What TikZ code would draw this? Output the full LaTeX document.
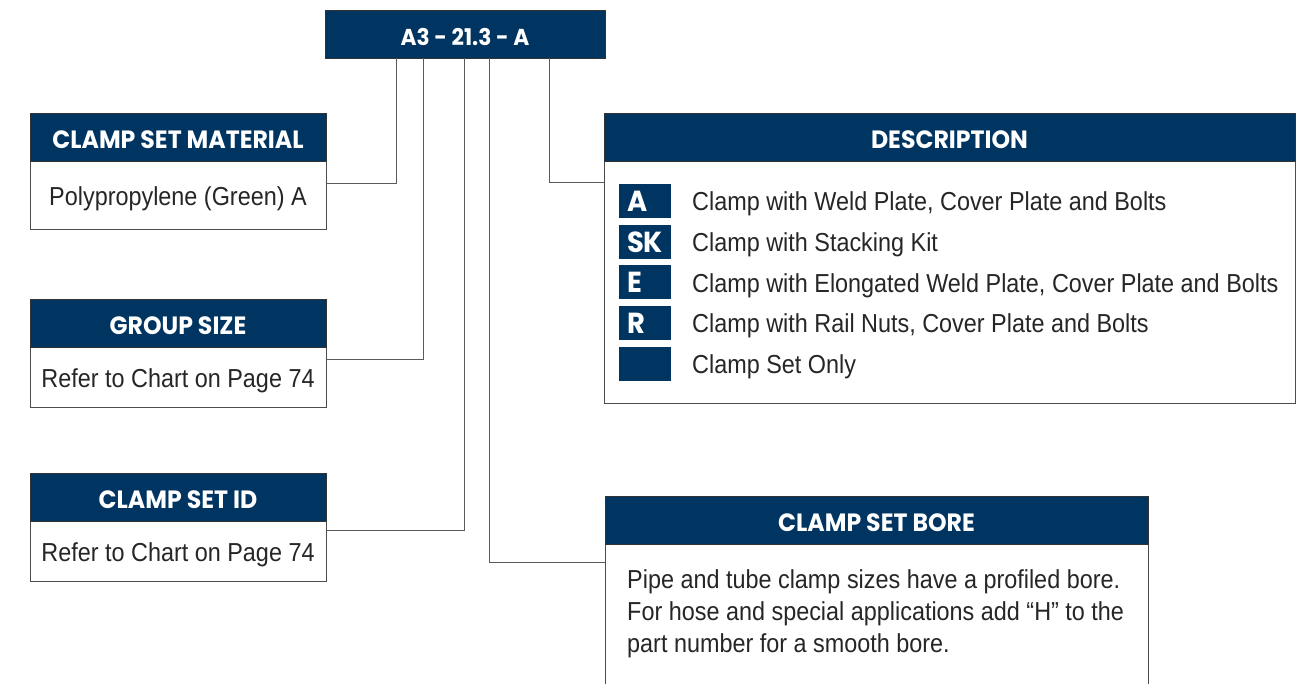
\documentclass[tikz,border=0pt]{standalone}
\usepackage{fontspec}
\newfontfamily\hfont[FakeStretch=0.945]{Poppins}
\newfontfamily\bfont[FakeStretch=0.9]{Liberation Sans}
\definecolor{navy}{HTML}{003562}
\definecolor{linegray}{HTML}{5A5A5A}
\definecolor{txt}{HTML}{262626}
\begin{document}
\begin{tikzpicture}[x=1pt,y=-1pt,
  head/.style={draw=black!80,line width=0.8pt,fill=navy,text=white,inner sep=0pt,
    text height=22pt,text depth=0pt,
    minimum height=48pt,font=\hfont\bfseries\fontsize{25}{28}\selectfont},
  body/.style={draw=black!70,line width=0.8pt,fill=white,inner sep=0pt,text=txt,
    text height=20pt,text depth=0pt,
    font=\bfont\fontsize{26}{32}\selectfont},
  badge/.style={fill=navy,text=white,inner ysep=0pt,inner xsep=8pt,text width=36pt,
    align=left,minimum height=34pt,text height=21pt,text depth=0pt,
    font=\hfont\bfseries\fontsize{29}{30}\selectfont},
  item/.style={anchor=west,inner sep=0pt,text=txt,text height=19pt,text depth=0pt,
    font=\bfont\fontsize{26}{30}\selectfont},
  conn/.style={draw=linegray,line width=1.2pt}]
\useasboundingbox (0,0) rectangle (1307,683);
% top code
\node[head,minimum width=280pt,font=\hfont\bfseries\fontsize{23}{26}\selectfont] (top) at (465,34) {A3 - 21.3 - A};
% left boxes
\node[body,minimum width=296pt,minimum height=68pt] (matbody) at (178,195) {Polypropylene (Green) A};
\node[head,minimum width=296pt] (mathead) at (178,137) {CLAMP SET MATERIAL};
\node[body,minimum width=296pt,minimum height=60pt] (grpbody) at (178,377) {Refer to Chart on Page 74};
\node[head,minimum width=296pt] (grphead) at (178,323) {GROUP SIZE};
\node[body,minimum width=296pt,minimum height=60pt] (idbody) at (178,551) {Refer to Chart on Page 74};
\node[head,minimum width=296pt] (idhead) at (178,497) {CLAMP SET ID};
% description
\node[body,minimum width=691pt,minimum height=242pt] (descbody) at (949.5,282) {};
\node[head,minimum width=691pt] (deschead) at (949.5,137) {DESCRIPTION};
\node[badge] (bA) at (645,201) {A};
\node[badge] (bSK) at (645,242) {SK};
\node[badge] (bE) at (645,282) {E};
\node[badge] (bR) at (645,323) {R};
\node[badge] (bN) at (645,364) {};
\node[item] (tA) at (692,201) {Clamp with Weld Plate, Cover Plate and Bolts};
\node[item] (tSK) at (692,242) {Clamp with Stacking Kit};
\node[item] (tE) at (692,283) {Clamp with Elongated Weld Plate, Cover Plate and Bolts};
\node[item] (tR) at (692,323) {Clamp with Rail Nuts, Cover Plate and Bolts};
\node[item] (tN) at (692,364) {Clamp Set Only};
% bore
\node[body,minimum width=543pt,minimum height=146pt] (borebody) at (876.5,617) {};
\node[head,minimum width=543pt] (borehead) at (876.5,520) {CLAMP SET BORE};
\node[anchor=north west,inner sep=0pt,align=left,text=txt,
  font=\bfont\fontsize{26}{32}\selectfont] (boretext) at (627,569)
  {Pipe and tube clamp sizes have a profiled bore.\\For hose and special applications add “H” to the\\part number for a smooth bore.};
% connectors
\draw[conn] ([xshift=72pt]top.south west) |- ([yshift=-22pt]mathead.south east);
\draw[conn] ([xshift=99pt]top.south west) |- ([yshift=-12pt]grphead.south east);
\draw[conn] ([xshift=140pt]top.south west) |- ([yshift=-9pt]idhead.south east);
\draw[conn] ([xshift=165pt]top.south west) |- ([yshift=-18pt]borehead.south west);
\draw[conn] ([xshift=225pt]top.south west) |- ([yshift=-21pt]deschead.south west);
\end{tikzpicture}
\end{document}
